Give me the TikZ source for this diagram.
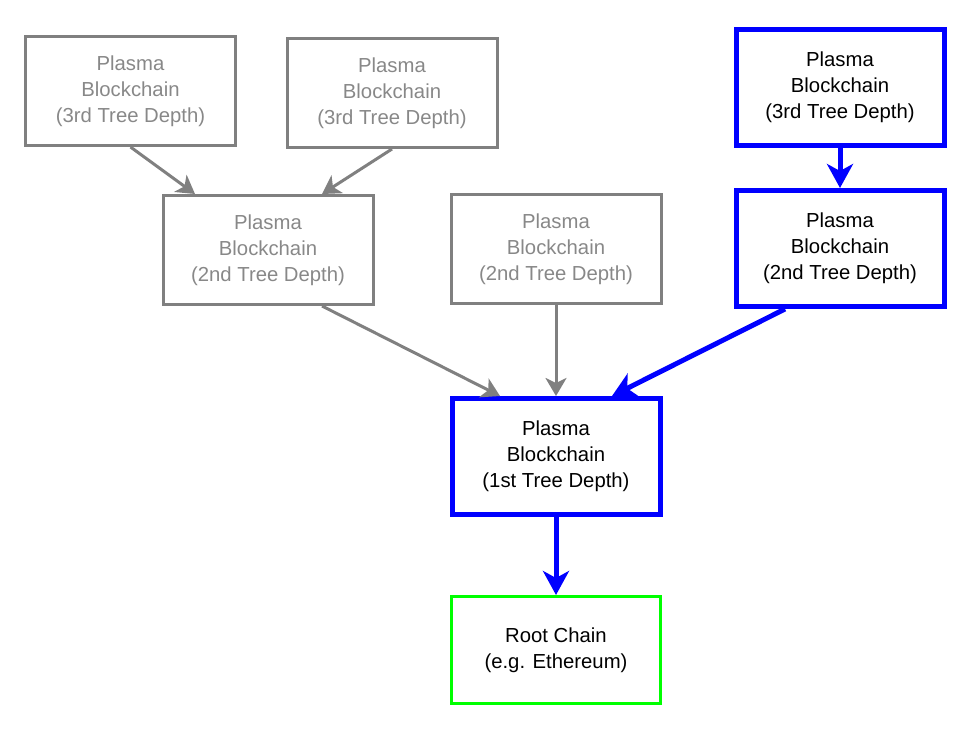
\documentclass[tikz,border=0pt]{standalone}
\usepackage{fontspec}
\setmainfont{Liberation Sans}
\usetikzlibrary{arrows.meta}
\definecolor{gline}{RGB}{128,128,128}
\definecolor{gtext}{RGB}{136,136,136}
\definecolor{bline}{RGB}{0,0,255}
\definecolor{grn}{RGB}{0,255,0}
\tikzset{
  box/.style={draw, rectangle, align=center, inner sep=0pt,
    font=\fontsize{20.3pt}{26pt}\selectfont},
  graybox/.style={box, draw=gline, text=gtext, line width=3pt,
    minimum width=210pt, minimum height=109pt},
  bluebox/.style={box, draw=bline, text=black, line width=5pt,
    minimum width=208pt, minimum height=116pt},
  greenbox/.style={box, draw=grn, text=black, line width=3pt,
    minimum width=209pt, minimum height=107pt},
  grayarrow/.style={draw=gline, line width=3pt,
    -{Stealth[length=18pt,width=21pt,inset=5pt]}},
  bluearrow/.style={draw=bline, line width=5pt,
    -{Stealth[length=24pt,width=26pt,inset=7pt]}}
}
\begin{document}
\begin{tikzpicture}[x=1pt,y=-1pt]
\useasboundingbox (0,0) rectangle (977,731);
\node[graybox] (A) at (130.5,91) {Plasma\\Blockchain\\(3rd Tree Depth)};
\node[graybox] (B) at (392,93) {Plasma\\Blockchain\\(3rd Tree Depth)};
\node[bluebox] (C) at (840,87) {Plasma\\Blockchain\\(3rd Tree Depth)};
\node[graybox] (D) at (268,250) {Plasma\\Blockchain\\(2nd Tree Depth)};
\node[graybox] (E) at (556,249) {Plasma\\Blockchain\\(2nd Tree Depth)};
\node[bluebox] (F) at (840,248.5) {Plasma\\Blockchain\\(2nd Tree Depth)};
\node[bluebox] (G) at (556,456.5) {Plasma\\Blockchain\\(1st Tree Depth)};
\node[greenbox] (H) at (556,650) {Root Chain\\(e.g. Ethereum)};
\draw[grayarrow] (A.south) -- ([xshift=-73pt]D.north);
\draw[grayarrow] (B.south) -- ([xshift=54pt]D.north);
\draw[bluearrow] (C.south) -- (F.north);
\draw[grayarrow] ([xshift=54pt]D.south) -- ([xshift=-56pt]G.north);
\draw[grayarrow] (E.south) -- (G.north);
\draw[bluearrow] ([xshift=-55pt]F.south) -- ([xshift=56pt]G.north);
\draw[bluearrow] (G.south) -- (H.north);
\end{tikzpicture}
\end{document}
